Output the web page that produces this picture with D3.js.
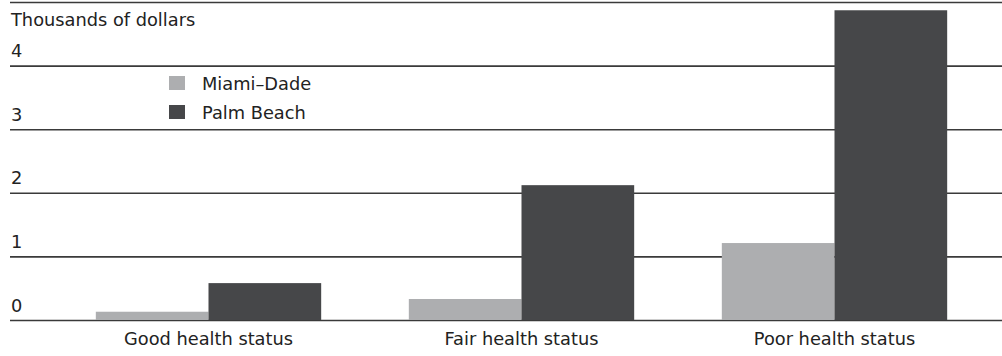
<!DOCTYPE html>
<html>
<head>
<meta charset="utf-8">
<script src="https://cdn.jsdelivr.net/npm/d3@7"></script>
<style>
  html, body { margin: 0; padding: 0; background: #fff; }
  svg { display: block; }
  text { font-family: "DejaVu Sans", sans-serif; fill: #222; }
</style>
</head>
<body>
<svg id="chart" width="1002" height="356"></svg>
<script>
// Annual spending by self-reported health status, thousands of dollars
const categories = ["Good health status", "Fair health status", "Poor health status"];
const seriesNames = ["Miami–Dade", "Palm Beach"];
const miamiDade = [0.13, 0.33, 1.21];
const palmBeach = [0.58, 2.12, 4.87];
const yTicks = [0, 1, 2, 3, 4, 5];
const yTickLabels = ["0", "1", "2", "3", "4", ""];
const colors = ["#adaeb0", "#464749"];

const series = [miamiDade, palmBeach];
const FONT = "'DejaVu Sans', sans-serif";
const FS = "17.8px";

const W = 1002;
const svg = d3.select("#chart");

const y = d3.scaleLinear().domain([0, 5]).range([320, 2]);
const x0 = d3.scaleBand().domain(categories).range([52, 991])
  .paddingInner(0.28).paddingOuter(0.14);
const x1 = d3.scaleBand().domain(seriesNames).range([0, x0.bandwidth()]);

// horizontal gridlines
const yAxis = d3.axisLeft(y).tickValues(yTicks).tickSize(-(W - 10))
  .tickFormat((d, i) => yTickLabels[i]);
const gy = svg.append("g").attr("transform", "translate(10,0)").call(yAxis);
gy.select(".domain").remove();
gy.selectAll(".tick line").attr("stroke", "#3a3a3a").attr("stroke-width", 1.6);
gy.selectAll(".tick text")
  .attr("x", 1).attr("dy", "-0.5em")
  .attr("text-anchor", "start")
  .style("font-size", FS)
  .style("font-family", FONT)
  .attr("fill", "#222");

// bars
const groups = svg.append("g").selectAll("g")
  .data(categories)
  .join("g")
  .attr("transform", d => `translate(${x0(d)},0)`);

groups.selectAll("rect")
  .data((d, i) => seriesNames.map((s, j) => ({ s, v: series[j][i], j })))
  .join("rect")
  .attr("x", d => x1(d.s))
  .attr("width", x1.bandwidth())
  .attr("y", d => y(d.v))
  .attr("height", d => y(0) - y(d.v))
  .attr("fill", d => colors[d.j]);

// category labels
const xAxis = d3.axisBottom(x0).tickSize(0).tickPadding(12);
const gx = svg.append("g").attr("transform", "translate(0,320)").call(xAxis);
gx.select(".domain").remove();
gx.selectAll(".tick text")
  .style("font-size", FS)
  .style("font-family", FONT)
  .attr("fill", "#222");

// axis title
svg.append("text").attr("x", 11).attr("y", 26)
  .style("font-size", FS).text("Thousands of dollars");

// legend
const legend = svg.append("g").attr("transform", "translate(169,76)");
const li = legend.selectAll("g").data(seriesNames).join("g")
  .attr("transform", (d, i) => `translate(0,${i * 29})`);
li.append("rect").attr("width", 16).attr("height", 14)
  .attr("fill", (d, i) => colors[i]);
li.append("text").attr("x", 33).attr("y", 14)
  .style("font-size", FS).text(d => d);
</script>
</body>
</html>
